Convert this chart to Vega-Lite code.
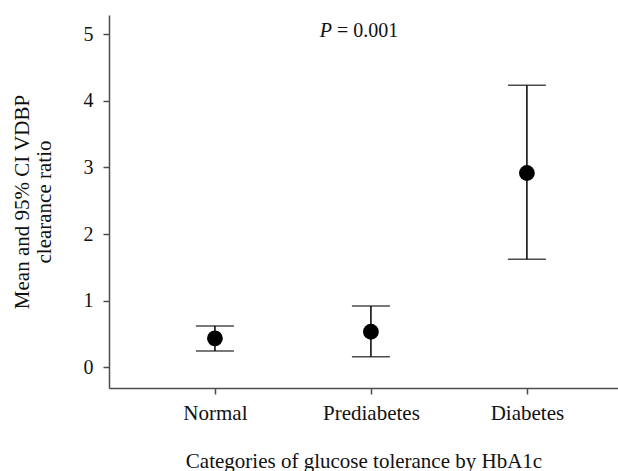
{
  "$schema": "https://vega.github.io/schema/vega-lite/v6.json",
  "width": 509,
  "height": 373,
  "autosize": {"type": "none"},
  "padding": {"left": 109, "top": 15, "right": 0, "bottom": 83},
  "background": "white",
  "config": {
    "font": "Liberation Serif",
    "view": {"stroke": null},
    "axis": {
      "grid": false,
      "domainColor": "#4d4d4d",
      "domainWidth": 1.5,
      "tickColor": "#4d4d4d",
      "tickWidth": 1.5,
      "tickSize": 6,
      "labelColor": "#111111",
      "titleColor": "#111111",
      "labelFont": "Liberation Serif",
      "titleFont": "Liberation Serif",
      "titleFontWeight": "normal"
    },
    "text": {"font": "Liberation Serif", "fontSize": 20, "color": "#111111"}
  },
  "datasets": {
    "stats": [
      {"group": "Normal", "pos": 1, "mean": 0.435, "lo": 0.245, "hi": 0.62},
      {"group": "Prediabetes", "pos": 2, "mean": 0.534, "lo": 0.16, "hi": 0.92},
      {"group": "Diabetes", "pos": 3, "mean": 2.915, "lo": 1.62, "hi": 4.23}
    ],
    "note": [
      {"part": "P", "pval": "= 0.001"}
    ]
  },
  "layer": [
    {
      "data": {"name": "stats"},
      "mark": {"type": "rule", "color": "black", "strokeWidth": 1.5},
      "encoding": {
        "x": {
          "field": "pos",
          "type": "quantitative",
          "scale": {"domain": [0.321, 3.584], "nice": false, "zero": false},
          "axis": {
            "values": [1, 2, 3],
            "labelExpr": "['', 'Normal', 'Prediabetes', 'Diabetes'][datum.value]",
            "labelFontSize": 21,
            "labelPadding": 8,
            "title": "Categories of glucose tolerance by HbA1c",
            "titleFontSize": 21,
            "titlePadding": 27
          }
        },
        "y": {
          "field": "lo",
          "type": "quantitative",
          "scale": {"domain": [-0.31, 5.285], "nice": false, "zero": false},
          "axis": {
            "values": [0, 1, 2, 3, 4, 5],
            "format": "d",
            "labelFontSize": 20,
            "labelPadding": 10,
            "title": ["Mean and 95% CI VDBP", "clearance ratio"],
            "titleFontSize": 21,
            "titleLineHeight": 22,
            "titlePadding": 29
          }
        },
        "y2": {"field": "hi"}
      }
    },
    {
      "data": {"name": "stats"},
      "mark": {"type": "tick", "orient": "horizontal", "color": "black", "size": 38, "thickness": 1.5},
      "encoding": {
        "x": {"field": "pos", "type": "quantitative"},
        "y": {"field": "lo", "type": "quantitative"}
      }
    },
    {
      "data": {"name": "stats"},
      "mark": {"type": "tick", "orient": "horizontal", "color": "black", "size": 38, "thickness": 1.5},
      "encoding": {
        "x": {"field": "pos", "type": "quantitative"},
        "y": {"field": "hi", "type": "quantitative"}
      }
    },
    {
      "data": {"name": "stats"},
      "mark": {"type": "point", "filled": true, "shape": "circle", "color": "black", "opacity": 1, "size": 250},
      "encoding": {
        "x": {"field": "pos", "type": "quantitative"},
        "y": {"field": "mean", "type": "quantitative"}
      }
    },
    {
      "data": {"name": "note"},
      "mark": {"type": "text", "fontStyle": "italic", "align": "right", "baseline": "alphabetic", "dx": -2},
      "encoding": {
        "x": {"datum": 1.763, "type": "quantitative"},
        "y": {"datum": 4.954, "type": "quantitative"},
        "text": {"field": "part", "type": "nominal"}
      }
    },
    {
      "data": {"name": "note"},
      "mark": {"type": "text", "align": "left", "baseline": "alphabetic", "dx": 3},
      "encoding": {
        "x": {"datum": 1.763, "type": "quantitative"},
        "y": {"datum": 4.954, "type": "quantitative"},
        "text": {"field": "pval", "type": "nominal"}
      }
    }
  ]
}
